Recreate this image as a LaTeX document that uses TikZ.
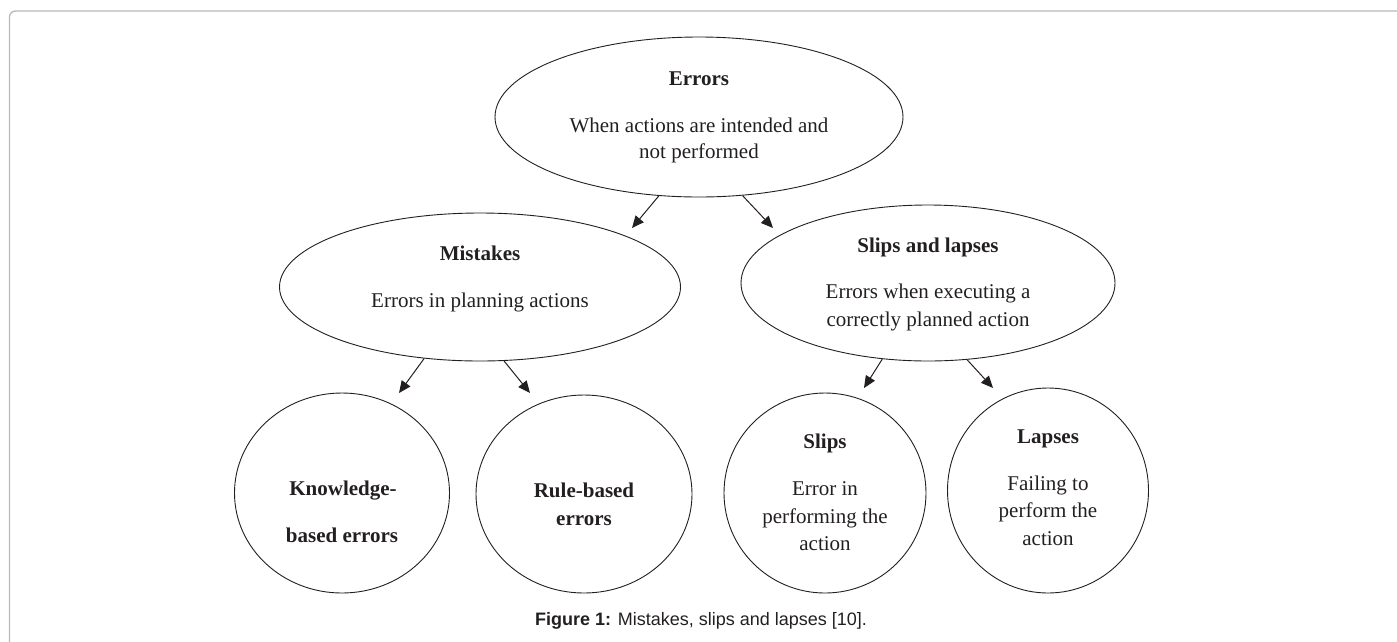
\documentclass[tikz,border=0pt]{standalone}
\usepackage{fontspec}
\setmainfont{Liberation Serif}
\newfontfamily\capfont{Liberation Sans}
\usetikzlibrary{shapes.geometric,arrows.meta}
\definecolor{ink}{RGB}{35,31,32}
\definecolor{framegray}{RGB}{185,185,185}
\tikzset{
  oval/.style={ellipse, draw=ink, line width=0.9pt, inner sep=0pt},
  ttl/.style={anchor=base, inner sep=0pt, text=ink, font=\fontsize{21}{27}\selectfont\bfseries},
  body/.style={anchor=base, inner sep=0pt, text=ink, font=\fontsize{21}{27}\selectfont},
  arr/.style={draw=ink, line width=1pt, -{Triangle[length=12pt,width=10.5pt]}}
}
\begin{document}
\begin{tikzpicture}[x=1pt,y=-1pt]
\useasboundingbox (0,0) rectangle (1397,641);
\begin{scope}
\clip (0,0) rectangle (1397,641);
\draw[framegray, line width=1.3pt, rounded corners=6pt] (9.5,11) rectangle (1430,700);
\end{scope}

% ellipses and circles
\node[oval, minimum width=408pt, minimum height=160pt] (err) at (699,117) {};
\node[oval, minimum width=401pt, minimum height=148pt] (mis) at (480,287) {};
\node[oval, minimum width=374pt, minimum height=156pt] (sl) at (928,283) {};
\node[oval, minimum width=215pt, minimum height=200pt] (kb) at (342,493) {};
\node[oval, minimum width=216pt, minimum height=198pt] (rb) at (584,494) {};
\node[oval, minimum width=202pt, minimum height=200pt] (sp) at (825,493) {};
\node[oval, minimum width=201pt, minimum height=205pt] (lp) at (1048,490.5) {};

% texts
\node[ttl] (t1) at (699,85) {Errors};
\node[body] (t1a) at (699,132) {When actions are intended and};
\node[body] (t1b) at (699,158) {not performed};

\node[ttl] (t2) at (480,260) {Mistakes};
\node[body] (t2a) at (480,307) {Errors in planning actions};

\node[ttl] (t3) at (928,252) {Slips and lapses};
\node[body] (t3a) at (928,298) {Errors when executing a};
\node[body] (t3b) at (928,326) {correctly planned action};

\node[ttl] (t4a) at (343,495) {Knowledge-};
\node[ttl] (t4b) at (342,542) {based errors};

\node[ttl] (t5a) at (584,497) {Rule-based};
\node[ttl] (t5b) at (584,525) {errors};

\node[ttl] (t6) at (825,448) {Slips};
\node[body] (t6a) at (825,495) {Error in};
\node[body] (t6b) at (825,523) {performing the};
\node[body] (t6c) at (825,550) {action};

\node[ttl] (t7) at (1048,443) {Lapses};
\node[body] (t7a) at (1048,490) {Failing to};
\node[body] (t7b) at (1048,517) {perform the};
\node[body] (t7c) at (1048,545) {action};

% arrow end points
\coordinate (e1) at (632,228);
\coordinate (e2) at (773,228);
\coordinate (e3) at (399,393);
\coordinate (e4) at (530,393);
\coordinate (e5) at (864,388);
\coordinate (e6) at (993,388);

\draw[arr] (err.243.4) -- (e1);
\draw[arr] (err.299.9) -- (e2);
\draw[arr] (mis.232.9) -- (e3);
\draw[arr] (mis.288.7) -- (e4);
\draw[arr] (sl.239.5) -- (e5);
\draw[arr] (sl.297.5) -- (e6);

% caption
\node[anchor=base, inner sep=0pt, text=ink, font=\capfont\fontsize{18}{22}\selectfont] (cap) at (701,625)
  {\textbf{Figure 1:} Mistakes, slips and lapses [10].};
\end{tikzpicture}
\end{document}
